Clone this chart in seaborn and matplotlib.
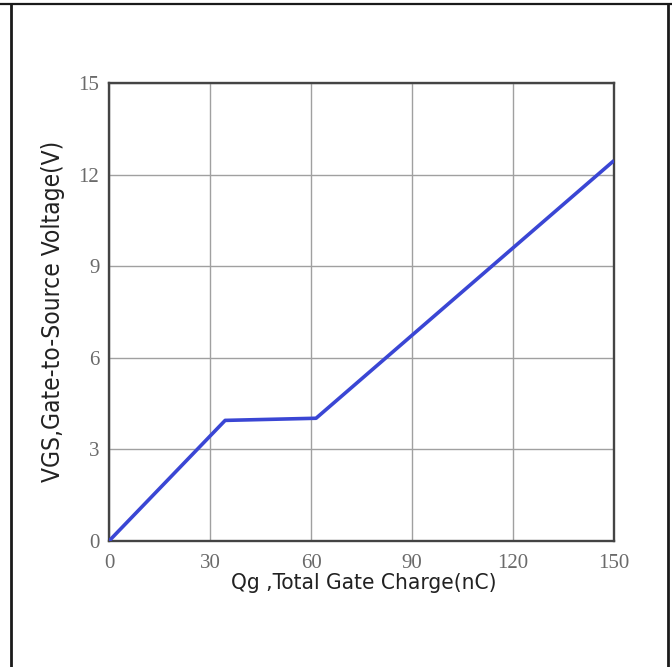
import matplotlib
matplotlib.use("Agg")
import matplotlib.pyplot as plt
from matplotlib.lines import Line2D
import pandas as pd
import seaborn as sns

# Gate charge curve: Qg (nC) vs VGS (V)
qg_nc = [0.0, 34.5, 61.5, 150.0]
vgs_v = [0.0, 3.95, 4.02, 12.46]

x_ticks = [0, 30, 60, 90, 120, 150]
y_ticks = [0, 3, 6, 9, 12, 15]

x_label = "Qg ,Total Gate Charge(nC)"
y_label = "VGS,Gate-to-Source Voltage(V)"

sns.set_style("white")
plt.rcParams["font.family"] = ["DejaVu Sans"]

df = pd.DataFrame({"qg": qg_nc, "vgs": vgs_v})

fig = plt.figure(figsize=(6.72, 6.67), dpi=100)
ax = fig.add_axes([109 / 672, 1 - 541 / 667, 505 / 672, 458 / 667])

sns.lineplot(data=df, x="qg", y="vgs", ax=ax, color="#3a46d4",
             linewidth=2.6, solid_capstyle="butt", zorder=3)

ax.set_xlim(0, 150)
ax.set_ylim(0, 15)
ax.set_xticks(x_ticks)
ax.set_yticks(y_ticks)
ax.grid(True, color="#a0a0a0", linewidth=1.0)
ax.tick_params(axis="x", length=0, pad=9, labelcolor="#6a6a6a")
ax.tick_params(axis="y", length=0, pad=7, labelcolor="#6a6a6a")
for lab in ax.get_xticklabels() + ax.get_yticklabels():
    lab.set_family("Liberation Serif")
    lab.set_fontsize(15)
for sp in ax.spines.values():
    sp.set_visible(True)
    sp.set_color("#444444")
    sp.set_linewidth(1.7)

ax.set_xlabel("")
ax.set_ylabel("")
fig.text(364 / 672, 1 - 583 / 667, x_label, ha="center", va="center",
         fontsize=16.2, color="#222222", fontstretch="condensed",
         family="DejaVu Sans")
fig.text(53 / 672, 1 - 311 / 667, y_label, ha="center", va="center",
         rotation=90, fontsize=17.6, color="#222222", fontstretch="condensed",
         family="DejaVu Sans")

# Outer frame around the figure
frame_kw = dict(transform=fig.transFigure, color="#1a1a1a")
fig.add_artist(Line2D([0, 1], [1 - 4 / 667, 1 - 4 / 667], linewidth=1.6, **frame_kw))
fig.add_artist(Line2D([11 / 672, 11 / 672], [0, 1 - 4 / 667], linewidth=2.0, **frame_kw))
fig.add_artist(Line2D([668 / 672, 668 / 672], [0, 1 - 4 / 667], linewidth=2.0, **frame_kw))

fig.savefig("out.png", dpi=100)
